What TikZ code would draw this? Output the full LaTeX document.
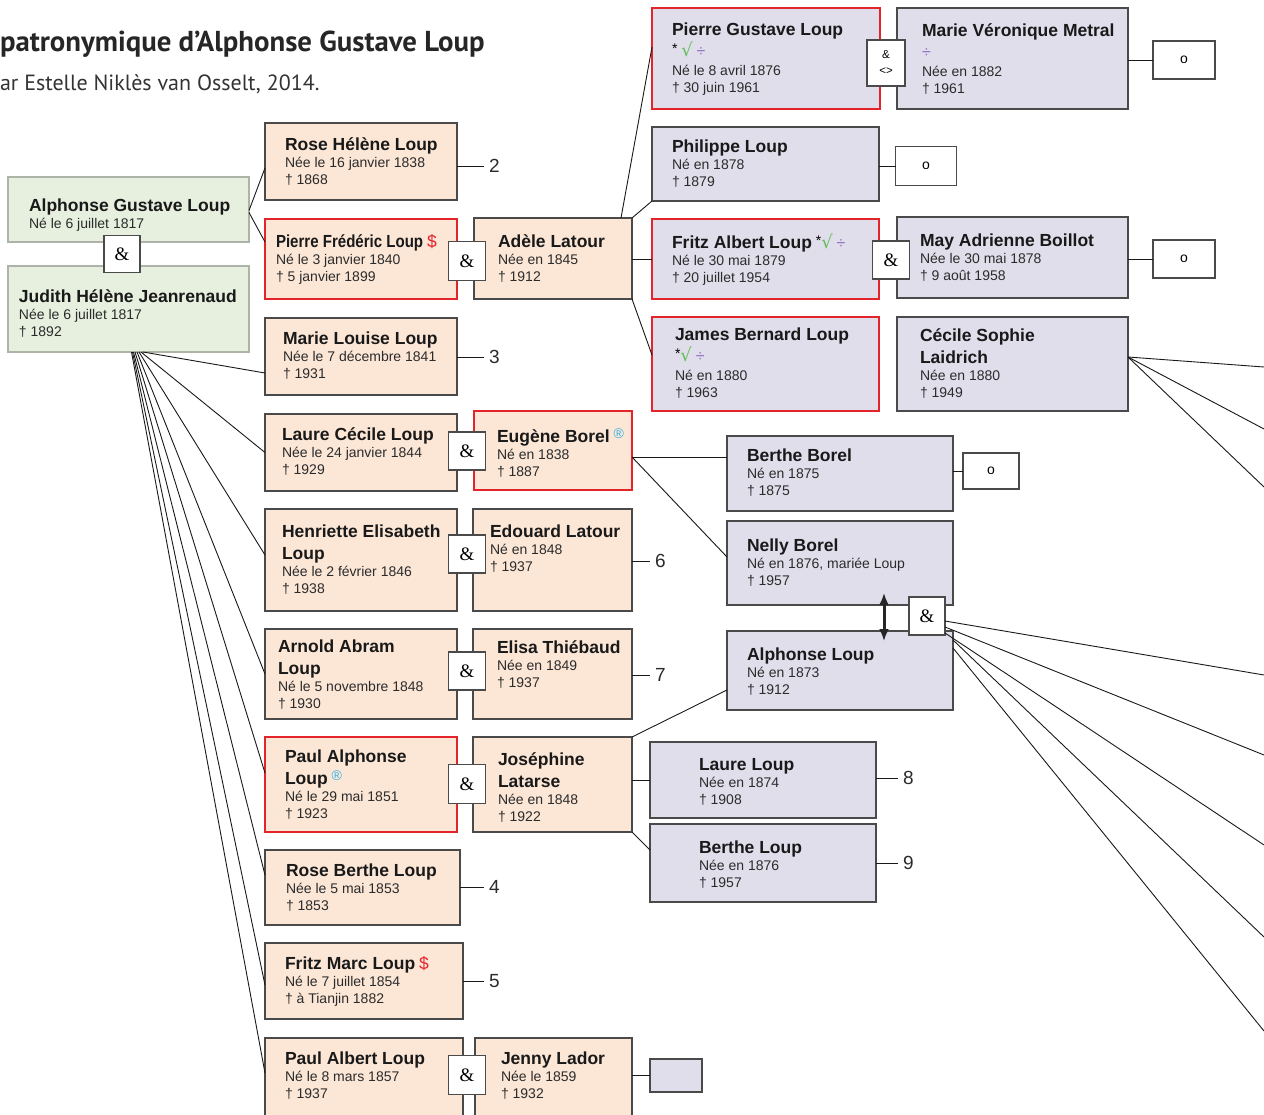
\documentclass[tikz,border=0pt]{standalone}
\usepackage{fontspec}
\setmainfont{Liberation Sans}
\newfontfamily\titlefont{PT Sans}
\newfontfamily\condfont{Liberation Sans}[FakeStretch=0.86]
\newfontfamily\ampserif{Liberation Serif}
\newfontfamily\symfam{DejaVu Sans}
\usetikzlibrary{arrows.meta}
\definecolor{peachfill}{HTML}{FCE7D7}
\definecolor{lavfill}{HTML}{E1DEEC}
\definecolor{greenfill}{HTML}{E7EFDF}
\definecolor{greenline}{HTML}{AEB3A8}
\definecolor{boxline}{HTML}{4A4A4A}
\definecolor{redline}{HTML}{E3242B}
\definecolor{symgreen}{HTML}{5FBF55}
\definecolor{sympurple}{HTML}{8C6CC0}
\definecolor{symcyan}{HTML}{2FB0E4}
\definecolor{textgrey}{HTML}{2B2B2B}
\newcommand\pname[1]{{\fontsize{17.5}{21}\selectfont\bfseries\color{black!90}#1}}
\newcommand\pnamecond[1]{{\fontsize{17.5}{21}\selectfont\condfont\bfseries\color{black!90}#1}}
\newcommand\detailfont{\fontsize{14}{17}\selectfont}
\newcommand\symstar{\smash{\raisebox{3pt}{\fontsize{14}{14}\selectfont\color{black}*}}}
\newcommand\symroot{\smash{\color{symgreen}\symfam\fontsize{18}{18}\selectfont √}}
\newcommand\symdivide{\smash{\color{sympurple}\fontsize{16}{16}\selectfont ÷}}
\newcommand\symreg{\smash{\raisebox{4pt}{\color{symcyan}\fontsize{14}{14}\selectfont ®}}}
\newcommand\symdollar{{\color{redline}\fontsize{17.5}{17}\selectfont\$}}
\begin{document}
\begin{tikzpicture}[x=1pt,y=-1pt,
  every node/.style={inner sep=0pt,outer sep=0pt},
  boxsize/.style 2 args={minimum width=#1,minimum height=#2,anchor=north west},
  peach/.style={draw=boxline,fill=peachfill,line width=1.4pt},
  lav/.style={draw=boxline,fill=lavfill,line width=1.4pt},
  greenbox/.style={draw=greenline,fill=greenfill,line width=1.1pt},
  redframe/.style={draw=redline,line width=2.2pt},
  txt/.style={anchor=north west,align=left,font=\detailfont,text=textgrey},
  ampbox/.style={draw=boxline,fill=white,line width=1.3pt,minimum width=37,minimum height=38,font=\ampserif\fontsize{19}{19}\selectfont},
  ampsmall/.style={draw=boxline,fill=white,line width=1.3pt,minimum width=38,minimum height=46,align=center,font=\fontsize{11.5}{16}\selectfont},
  obox/.style={draw=boxline,fill=white,line width=1.3pt,font=\fontsize{14}{14}\selectfont},
  conn/.style={line width=0.9pt,draw=black!90},
  dblarrow/.style={{Latex[length=12pt,width=10pt]}-{Latex[length=12pt,width=10pt]},line width=3pt,draw=black!85},
  numlabel/.style={anchor=west,inner xsep=5pt,font=\fontsize{19}{19}\selectfont,text=textgrey},
]
\useasboundingbox (0,0) rectangle (1264,1115);
\clip (0,0) rectangle (1264,1115);

% title
\node[anchor=base west,font=\titlefont\bfseries\fontsize{28.8}{32}\selectfont,text=black!85] (title) at (0,52) {patronymique d’Alphonse Gustave Loup};
\node[anchor=base west,font=\titlefont\fontsize{22}{26}\selectfont,text=black!80] (subtitle) at (0,91) {ar Estelle Niklès van Osselt, 2014.};

% generation 1
\node[greenbox,boxsize={241}{65}] (ag) at (8,177) {};
\node[greenbox,boxsize={241}{86}] (jj) at (8,266) {};

% generation 2
\node[peach,boxsize={192}{77}] (rh) at (265,123) {};
\node[peach,redframe,boxsize={192}{80}] (pf) at (265,219) {};
\node[peach,boxsize={158}{81}] (al) at (474,218) {};
\node[peach,boxsize={192}{77}] (ml) at (265,318) {};
\node[peach,boxsize={192}{77}] (lc) at (265,414) {};
\node[peach,redframe,boxsize={158}{79}] (eb) at (474,411) {};
\node[peach,boxsize={192}{102}] (he) at (265,509) {};
\node[peach,boxsize={159}{102}] (el) at (473,509) {};
\node[peach,boxsize={192}{90}] (aa) at (265,629) {};
\node[peach,boxsize={159}{90}] (et) at (473,629) {};
\node[peach,redframe,boxsize={192}{95}] (pa) at (265,737) {};
\node[peach,boxsize={159}{95}] (jo) at (473,737) {};
\node[peach,boxsize={195}{75}] (rb) at (265,850) {};
\node[peach,boxsize={198}{76}] (fm) at (265,943) {};
\node[peach,boxsize={198}{90}] (pb) at (265,1038) {};
\node[peach,boxsize={157}{90}] (jy) at (475,1038) {};

% generation 3
\node[lav,redframe,boxsize={228}{101}] (pg) at (652,8) {};
\node[lav,boxsize={231}{101}] (mv) at (897,8) {};
\node[lav,boxsize={227}{74}] (ph) at (652,127) {};
\node[lav,redframe,boxsize={227}{80}] (fa) at (652,219) {};
\node[lav,boxsize={231}{81}] (ma) at (897,217) {};
\node[lav,redframe,boxsize={227}{94}] (jb) at (652,317) {};
\node[lav,boxsize={231}{94}] (cs) at (897,317) {};
\node[lav,boxsize={226}{75}] (bb) at (727,436) {};
\node[lav,boxsize={226}{84}] (nb) at (727,521) {};
\node[lav,boxsize={226}{79}] (alo) at (727,631) {};
\node[lav,boxsize={226}{76}] (ll) at (650,742) {};
\node[lav,boxsize={226}{78}] (bl) at (650,824) {};
\node[lav,boxsize={52}{33}] (sb) at (650,1059) {};

% texts
\node[txt] (ag-t) at (29,198.5) {\pname{Alphonse Gustave Loup}\\Né le 6 juillet 1817};
\node[txt] (jj-t) at (19,289.5) {\pname{Judith Hélène Jeanrenaud}\\Née le 6 juillet 1817\\† 1892};
\node[txt] (rh-t) at (285,137.5) {\pname{Rose Hélène Loup}\\Née le 16 janvier 1838\\† 1868};
\node[txt] (pf-t) at (276,234.5) {\pnamecond{Pierre Frédéric Loup} \symdollar\\Né le 3 janvier 1840\\† 5 janvier 1899};
\node[txt] (al-t) at (498,234.5) {\pname{Adèle Latour}\\Née en 1845\\† 1912};
\node[txt] (ml-t) at (283,331.5) {\pname{Marie Louise Loup}\\Née le 7 décembre 1841\\† 1931};
\node[txt] (lc-t) at (282,427.5) {\pname{Laure Cécile Loup}\\Née le 24 janvier 1844\\† 1929};
\node[txt] (eb-t) at (497,429.5) {\pname{Eugène Borel} \symreg\\Né en 1838\\† 1887};
\node[txt] (he-t) at (282,524.5) {\pname{Henriette Elisabeth}\\[5pt]\pname{Loup}\\Née le 2 février 1846\\† 1938};
\node[txt] (el-t) at (490,524.5) {\pname{Edouard Latour}\\Né en 1848\\† 1937};
\node[txt] (aa-t) at (278,639.5) {\pname{Arnold Abram}\\[5pt]\pname{Loup}\\Né le 5 novembre 1848\\† 1930};
\node[txt] (et-t) at (497,640.5) {\pname{Elisa Thiébaud}\\Née en 1849\\† 1937};
\node[txt] (pa-t) at (285,749.5) {\pname{Paul Alphonse}\\[5pt]\pname{Loup} \symreg\\Né le 29 mai 1851\\† 1923};
\node[txt] (jo-t) at (498,752.5) {\pname{Joséphine}\\[5pt]\pname{Latarse}\\Née en 1848\\† 1922};
\node[txt] (rb-t) at (286,863.5) {\pname{Rose Berthe Loup}\\Née le 5 mai 1853\\† 1853};
\node[txt] (fm-t) at (285,956.5) {\pname{Fritz Marc Loup} \symdollar\\Né le 7 juillet 1854\\† à Tianjin 1882};
\node[txt] (pb-t) at (285,1051.5) {\pname{Paul Albert Loup}\\Né le 8 mars 1857\\† 1937};
\node[txt] (jy-t) at (501,1051.5) {\pname{Jenny Lador}\\Née le 1859\\† 1932};
\node[txt] (pg-t) at (672,22.5) {\pname{Pierre Gustave Loup}\\[4pt]\symstar\ \symroot\ \symdivide\\[2pt]Né le 8 avril 1876\\† 30 juin 1961};
\node[txt] (mv-t) at (922,23.5) {\pname{Marie Véronique Metral}\\[4pt]\symdivide\\[2pt]Née en 1882\\† 1961};
\node[txt] (ph-t) at (672,139.5) {\pname{Philippe Loup}\\Né en 1878\\† 1879};
\node[txt] (fa-t) at (672,235.5) {\pname{Fritz Albert Loup} \symstar\symroot\ \symdivide\\Né le 30 mai 1879\\† 20 juillet 1954};
\node[txt] (ma-t) at (920,233.5) {\pname{May Adrienne Boillot}\\Née le 30 mai 1878\\† 9 août 1958};
\node[txt] (jb-t) at (675,327.5) {\pname{James Bernard Loup}\\[4pt]\symstar\symroot\ \symdivide\\[2pt]Né en 1880\\† 1963};
\node[txt] (cs-t) at (920,328.5) {\pname{Cécile Sophie}\\[5pt]\pname{Laidrich}\\Née en 1880\\† 1949};
\node[txt] (bb-t) at (747,448.5) {\pname{Berthe Borel}\\Né en 1875\\† 1875};
\node[txt] (nb-t) at (747,538.5) {\pname{Nelly Borel}\\Né en 1876, mariée Loup\\† 1957};
\node[txt] (alo-t) at (747,647.5) {\pname{Alphonse Loup}\\Né en 1873\\† 1912};
\node[txt] (ll-t) at (699,758.5) {\pname{Laure Loup}\\Née en 1874\\† 1908};
\node[txt] (bl-t) at (699,840.5) {\pname{Berthe Loup}\\Née en 1876\\† 1957};

% white marker boxes
\node[obox,minimum width=62,minimum height=38] (ob1) at (1184,60) {o};
\node[obox,minimum width=61,minimum height=39] (ob2) at (926,166) {o};
\node[obox,minimum width=62,minimum height=38] (ob3) at (1184,259) {o};
\node[obox,minimum width=56,minimum height=36] (ob4) at (991,471) {o};

% number labels
\node[numlabel] (n2) at (484,166) {2};
\node[numlabel] (n3) at (484,357) {3};
\node[numlabel] (n6) at (650,561) {6};
\node[numlabel] (n7) at (650,675) {7};
\node[numlabel] (n4) at (484,887) {4};
\node[numlabel] (n5) at (484,981) {5};
\node[numlabel] (n8) at (898,778) {8};
\node[numlabel] (n9) at (898,863) {9};

% connectors
\draw[conn] ([yshift=-1]ag.east) -- ([yshift=-6.5]rh.west);
\draw[conn] ([yshift=-3]ag.east) -- ([yshift=17]pf.west);
\draw[conn] ([xshift=14.5]jj.south) -- ([yshift=-16.5]ml.west);
\draw[conn] ([xshift=12.5]jj.south) -- (lc.west);
\draw[conn] ([xshift=10.5]jj.south) -- ([yshift=5]he.west);
\draw[conn] ([xshift=8.5]jj.south) -- (aa.west);
\draw[conn] ([xshift=6.5]jj.south) -- ([yshift=11.5]pa.west);
\draw[conn] ([xshift=5]jj.south) -- ([yshift=12.5]rb.west);
\draw[conn] ([xshift=4]jj.south) -- ([yshift=-4]fm.west);
\draw[conn] ([xshift=3]jj.south) -- ([yshift=10]pb.west);

\draw[conn] ([xshift=-11]al.north east) -- ([yshift=11.5]pg.west);
\draw[conn] (al.north east) -- (ph.south west);
\draw[conn] (fa.west -| al.east) -- (fa.west);
\draw[conn] (al.south east) -- ([yshift=9]jb.west);

\coordinate (ebout) at ([yshift=-6.5]eb.east);
\draw[conn] (ebout) -- (ebout -| bb.west);
\draw[conn] (ebout) -- ([yshift=6]nb.west);

\draw[conn] (jo.north east) -- ([yshift=-19.5]alo.west);
\draw[conn] (ll.west -| jo.east) -- (ll.west);
\draw[conn] (jo.south east) -- ([yshift=13]bl.west);
\draw[conn] (sb.west -| jy.east) -- (sb.west);

\draw[conn] (ob1.west -| mv.east) -- (ob1.west);
\draw[conn] (ob2.west -| ph.east) -- (ob2.west);
\draw[conn] (ob3.west -| ma.east) -- (ob3.west);
\draw[conn] (ob4.west -| bb.east) -- (ob4.west);

\draw[conn] (n2.west -| rh.east) -- (n2.west);
\draw[conn] (n3.west -| ml.east) -- (n3.west);
\draw[conn] (n6.west -| el.east) -- (n6.west);
\draw[conn] (n7.west -| et.east) -- (n7.west);
\draw[conn] (n4.west -| rb.east) -- (n4.west);
\draw[conn] (n5.west -| fm.east) -- (n5.west);
\draw[conn] (n8.west -| ll.east) -- (n8.west);
\draw[conn] (n9.west -| bl.east) -- (n9.west);

% fans to the right edge
\coordinate (csout) at ([yshift=7]cs.east);
\coordinate (cf1) at (1264,367);
\coordinate (cf2) at (1264,429);
\coordinate (cf3) at (1264,487);
\draw[conn] (csout) -- (cf1);
\draw[conn] (csout) -- (cf2);
\draw[conn] (csout) -- (cf3);

% marriage boxes
\node[ampbox,minimum width=36,minimum height=37] (amp0) at (122,254) {\&};
\node[ampbox,minimum height=39] (amp1) at (467,261) {\&};
\node[ampbox] (amp2) at (467,451) {\&};
\node[ampbox] (amp3) at (467,554) {\&};
\node[ampbox] (amp4) at (467,671) {\&};
\node[ampbox,minimum height=39] (amp5) at (467,784) {\&};
\node[ampbox,minimum height=39] (amp6) at (467,1075) {\&};
\node[ampsmall] (ampx) at (886,63) {\&\\<>};
\node[ampbox] (amp7) at (891,260) {\&};
\node[ampbox,minimum width=36] (amp8) at (927,616) {\&};

\coordinate (af1) at (1264,675);
\coordinate (af2) at (1264,755);
\coordinate (af3) at (1264,845);
\coordinate (af4) at (1264,937);
\coordinate (af5) at (1264,1031);
\draw[conn] ([yshift=-5]amp8.east) -- (af1);
\draw[conn] ([yshift=-11]amp8.east) -- (af2);
\draw[conn] ([yshift=2]amp8.south east) -- (af3);
\draw[conn] ([yshift=-9]alo.north east) -- (af4);
\draw[conn] ([yshift=-17]alo.north east) -- (af5);

\coordinate (arrtop) at ([xshift=-69,yshift=12]nb.south east);
\coordinate (arrbot) at ([xshift=-69,yshift=-10]alo.north east);
\draw[dblarrow] (arrbot) -- (arrtop);
\end{tikzpicture}
\end{document}
